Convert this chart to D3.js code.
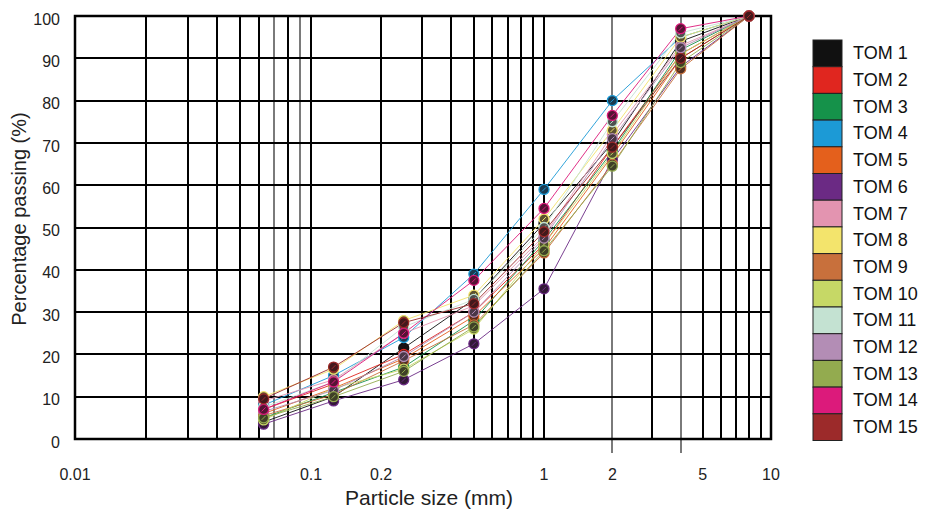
<!DOCTYPE html>
<html>
<head>
<meta charset="utf-8">
<script src="https://cdn.jsdelivr.net/npm/d3@7"></script>
<style>
  body { margin: 0; background: #fff; }
  svg { display: block; font-family: "Liberation Sans", Arial, sans-serif; }
</style>
</head>
<body>
<svg id="chart" width="927" height="512"></svg>
<script>
// sieve sizes (mm)
const sizes = [0.063, 0.125, 0.25, 0.5, 1, 2, 4, 8];

const names = ["TOM 1", "TOM 2", "TOM 3", "TOM 4", "TOM 5", "TOM 6", "TOM 7", "TOM 8",
  "TOM 9", "TOM 10", "TOM 11", "TOM 12", "TOM 13", "TOM 14", "TOM 15"];

const colors = ["#111111", "#e0261f", "#15924a", "#1c9ad6", "#e4601c", "#6b2a84", "#e394b0",
  "#f3e46c", "#c8703c", "#c6d866", "#c4e2d2", "#b38db5", "#93ab4f", "#dc1a7b", "#9c2a2a"];

// percentage passing, one row per sample
const tom1 = [4, 10, 21.5, 33, 51, 70, 94, 100];
const tom2 = [7, 13, 20, 30, 46, 69, 91, 100];
const tom3 = [5, 11, 17, 28, 47, 68, 92, 100];
const tom4 = [8, 15, 24, 39, 59, 80, 95, 100];
const tom5 = [6, 12, 19, 29, 45, 67, 90, 100];
const tom6 = [3.5, 9, 14, 22.5, 35.5, 66, 88, 100];
const tom7 = [9, 14, 25, 31.5, 48, 72, 93, 100];
const tom8 = [10, 16.5, 28, 34, 52, 73, 95, 100];
const tom9 = [5.5, 10.5, 18.5, 27, 44, 65, 87.5, 100];
const tom10 = [4.5, 12, 16.5, 26, 46, 67.5, 91, 100];
const tom11 = [7.5, 13.5, 26.5, 33, 50, 75, 96, 100];
const tom12 = [6.5, 11.5, 19.5, 30, 47.5, 71, 92.5, 100];
const tom13 = [5, 10, 16, 26.5, 44.5, 64.5, 89, 100];
const tom14 = [7, 13.5, 25, 37.5, 54.5, 76.5, 97, 100];
const tom15 = [9.5, 17, 27.5, 32, 49, 69, 90, 100];
const series = [tom1, tom2, tom3, tom4, tom5, tom6, tom7, tom8, tom9, tom10, tom11, tom12, tom13, tom14, tom15];

const xLabels = [0.01, 0.1, 0.2, 1, 2, 5, 10];
const yTicks = [0, 10, 20, 30, 40, 50, 60, 70, 80, 90, 100];
const grayLines = [0.07, 0.09, 2, 4];
const longLines = [2, 4];

const svg = d3.select("#chart");
const pLeft = 75, pRight = 771, pTop = 16, pBottom = 439;

// the printed grid is not quite evenly spaced per decade
const x = d3.scaleLog().domain([0.01, 0.1, 1, 10]).range([pLeft, 311, 544, pRight]);
const y = d3.scaleLinear().domain([0, 100]).range([pBottom, pTop]);

const isIn = (arr, d) => arr.some(v => Math.abs(v - d) < 1e-9);
const snap = v => Math.round(v);

// vertical grid
const grid = svg.append("g");
grid.selectAll("line.v")
  .data(x.ticks())
  .enter().append("line")
  .attr("class", "v")
  .attr("x1", d => snap(x(d))).attr("x2", d => snap(x(d)))
  .attr("y1", pTop)
  .attr("y2", d => isIn(longLines, d) ? pBottom + 14 : pBottom)
  .attr("stroke", d => isIn(grayLines, d) ? "#7a7a7a" : "#000")
  .attr("stroke-width", 2);

grid.selectAll("line.h")
  .data(yTicks)
  .enter().append("line")
  .attr("class", "h")
  .attr("x1", pLeft).attr("x2", pRight)
  .attr("y1", d => snap(y(d))).attr("y2", d => snap(y(d)))
  .attr("stroke", "#000")
  .attr("stroke-width", 2);

grid.append("rect")
  .attr("x", pLeft).attr("y", pTop)
  .attr("width", pRight - pLeft).attr("height", pBottom - pTop)
  .attr("fill", "none").attr("stroke", "#000").attr("stroke-width", 2.5);

// y tick labels
svg.append("g").selectAll("text")
  .data(yTicks)
  .enter().append("text")
  .attr("x", 60)
  .attr("y", d => y(d) + 3)
  .attr("dy", "0.35em")
  .attr("text-anchor", "end")
  .attr("font-size", 16)
  .attr("fill", "#222")
  .text(d => d);

// x tick labels
svg.append("g").selectAll("text")
  .data(xLabels)
  .enter().append("text")
  .attr("x", d => x(d))
  .attr("y", 480)
  .attr("text-anchor", "middle")
  .attr("font-size", 16)
  .attr("fill", "#222")
  .text(d => d);

// axis titles
svg.append("text")
  .attr("x", 429).attr("y", 505)
  .attr("text-anchor", "middle")
  .attr("font-size", 21)
  .attr("fill", "#222")
  .text("Particle size (mm)");

svg.append("text")
  .attr("transform", "translate(26,219) rotate(-90)")
  .attr("text-anchor", "middle")
  .attr("font-size", 20)
  .attr("fill", "#222")
  .text("Percentage passing (%)");

// curves
const line = d3.line()
  .x((d, i) => x(sizes[i]))
  .y(d => y(d));

svg.append("g").selectAll("path")
  .data(series)
  .enter().append("path")
  .attr("d", line)
  .attr("fill", "none")
  .attr("stroke", (d, i) => colors[i])
  .attr("stroke-width", 0.9);

// markers: dark dot with coloured rim and slash
const marks = svg.append("g");
series.forEach((vals, s) => {
  const c = colors[s];
  const fill = d3.interpolateRgb(c, "#1b1216")(0.7);
  const g = marks.append("g").selectAll("g")
    .data(vals)
    .enter().append("g")
    .attr("transform", (d, i) => `translate(${x(sizes[i])},${y(d)})`);
  g.append("circle")
    .attr("r", 5)
    .attr("fill", fill)
    .attr("stroke", c)
    .attr("stroke-width", 1.3);
  g.append("line")
    .attr("x1", -2).attr("y1", 2).attr("x2", 2).attr("y2", -2)
    .attr("stroke", c)
    .attr("stroke-width", 1);
});

// legend
const legY = 40, legH = 26.7;
const leg = svg.append("g");
leg.selectAll("rect")
  .data(names)
  .enter().append("rect")
  .attr("x", 813)
  .attr("y", (d, i) => legY + i * legH)
  .attr("width", 29)
  .attr("height", legH)
  .attr("fill", (d, i) => colors[i])
  .attr("stroke", "#222")
  .attr("stroke-width", 1);

leg.selectAll("text")
  .data(names)
  .enter().append("text")
  .attr("x", 853)
  .attr("y", (d, i) => legY + i * legH + legH / 2 + 6)
  .attr("font-size", 18)
  .attr("fill", "#111")
  .text(d => d);
</script>
</body>
</html>
